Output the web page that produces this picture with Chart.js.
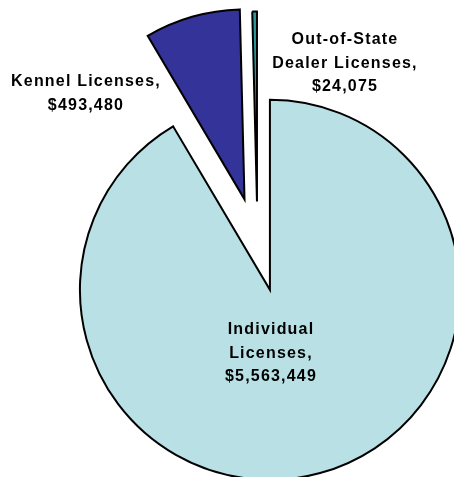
<!DOCTYPE html>
<html>
<head>
<meta charset="utf-8">
<script src="https://cdn.jsdelivr.net/npm/chart.js@4"></script>
<style>
  html, body { margin: 0; padding: 0; background: #fff; overflow: hidden; }
  canvas { display: block; }
</style>
</head>
<body>
<canvas id="licChart" width="454" height="477"></canvas>
<script>
// Datos
const categories = ['Individual Licenses', 'Kennel Licenses', 'Out-of-State Dealer Licenses'];
const revenue = [5563449, 493480, 24075];
const sliceColors = ['#B9E0E4', '#333399', '#2A9A9A'];

// Líneas de cada etiqueta (como aparecen partidas en el original)
const labelLines = [
    ['Individual', 'Licenses,'],
    ['Kennel Licenses,'],
    ['Out-of-State', 'Dealer Licenses,']
];

// separación de cada porción (px) y posición del texto
const explodeDist = [47, 47, 43];
const labelAnchor = [[271, 330], [86, 82], [345, 40]];

function money(v) {
    return '$' + v.toLocaleString('en-US');
}

// mueve cada arco hacia fuera según su ángulo medio
const explodePlugin = {
    id: 'explode',
    afterDatasetUpdate(chart, args) {
        const meta = chart.getDatasetMeta(args.index);
        meta.data.forEach((arc, i) => {
            const mid = (arc.startAngle + arc.endAngle) / 2;
            arc.x += Math.cos(mid) * explodeDist[i];
            arc.y += Math.sin(mid) * explodeDist[i];
        });
    }
};

// etiquetas de texto
const labelPlugin = {
    id: 'sliceLabels',
    afterDraw(chart) {
        const ctx = chart.ctx;
        ctx.save();
        ctx.font = 'bold 16px "Liberation Sans", Arial, sans-serif';
        ctx.letterSpacing = '1.2px';
        ctx.fillStyle = '#000';
        ctx.textAlign = 'center';
        ctx.textBaseline = 'middle';
        categories.forEach((cat, i) => {
            const lines = labelLines[i].concat([money(revenue[i])]);
            const [x, y] = labelAnchor[i];
            lines.forEach((txt, j) => ctx.fillText(txt, x, y + j * 23.5));
        });
        ctx.restore();
    }
};

const ctx = document.getElementById('licChart').getContext('2d');
const licChart = new Chart(ctx, {
    type: 'pie',
    data: {
        labels: categories,
        datasets: [{
            data: revenue,
            backgroundColor: sliceColors,
            borderColor: '#000',
            borderWidth: 2,
            borderJoinStyle: 'miter',
            clip: false
        }]
    },
    options: {
        responsive: false,
        animation: false,
        radius: 190,
        layout: {
            padding: { left: 61, top: 12, right: 0, bottom: 0 }
        },
        plugins: {
            legend: { display: false },
            tooltip: { enabled: false }
        }
    },
    plugins: [explodePlugin, labelPlugin]
});
</script>
</body>
</html>
